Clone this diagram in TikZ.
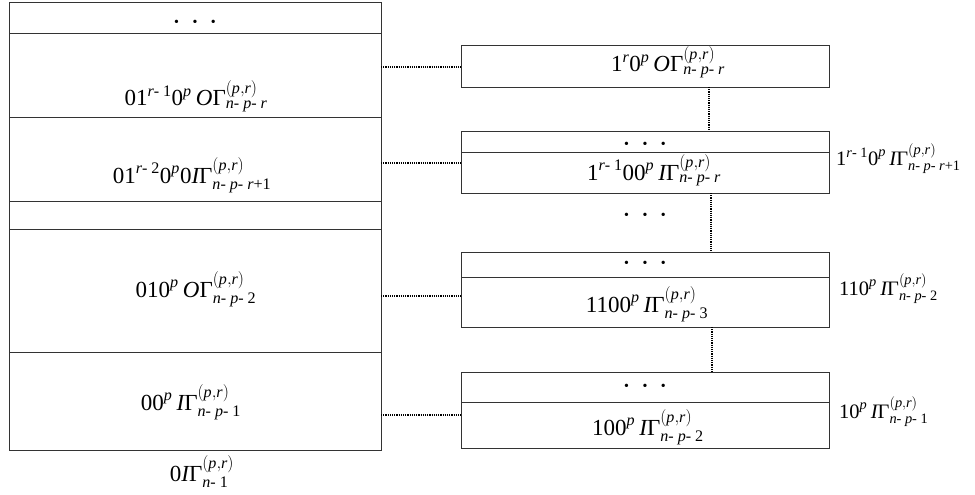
\documentclass[tikz,border=0pt]{standalone}
\usepackage{amsmath}
\usepackage{fontspec}
\setmainfont{Liberation Serif}
\usepackage{tikz}

\newcommand{\V}[1]{\textit{#1}}
\newcommand{\mi}{\text{-\ }}
\newcommand{\G}[1]{\text{Γ}^{(\V{p},\V{r})}_{#1}}
\newcommand{\tdots}{{\fontsize{14}{14}\selectfont\textbullet\hspace{13.5pt}\textbullet\hspace{13.5pt}\textbullet}}

\tikzset{
  band/.style={draw=black!80, line width=0.8pt, inner sep=0pt, outer sep=0pt},
  lab/.style={anchor=base, inner sep=0pt, font=\fontsize{23}{27}\selectfont},
  side/.style={anchor=base west, inner sep=0pt, font=\fontsize{20.5}{24}\selectfont},
  conn/.style={densely dotted, line width=1.2pt},
}

\begin{document}
\begin{tikzpicture}[x=1pt,y=-1pt]
      \useasboundingbox (0,0) rectangle (975,495);
      % left column
      \node[band, minimum width=372pt, minimum height=31pt] (L1) at (195,17.5) {};
      \node[band, minimum width=372pt, minimum height=84pt] (L2) at (195,75) {};
      \node[band, minimum width=372pt, minimum height=84pt] (L3) at (195,159) {};
      \node[band, minimum width=372pt, minimum height=28pt] (L4) at (195,215) {};
      \node[band, minimum width=372pt, minimum height=123pt] (L5) at (195,290.5) {};
      \node[band, minimum width=372pt, minimum height=98pt] (L6) at (195,401) {};
      \node (D1) at (195,23) {\tdots};
      \node[lab] (T1) at (196,106) {$\text{01}^{\V{r}\mi\text{1}}\text{0}^{\V{p}}\,\V{O}\G{\V{n}\mi\V{p}\mi\V{r}}$};
      \node[lab] (T2) at (192,183) {$\text{01}^{\V{r}\mi\text{2}}\text{0}^{\V{p}}\text{0}\V{I}\G{\V{n}\mi\V{p}\mi\V{r}\text{+1}}$};
      \node[lab] (T3) at (196,297) {$\text{010}^{\V{p}}\,\V{O}\G{\V{n}\mi\V{p}\mi\text{2}}$};
      \node[lab] (T4) at (191,410) {$\text{00}^{\V{p}}\,\V{I}\G{\V{n}\mi\V{p}\mi\text{1}}$};
      \node[lab] (T5) at (202,481) {$\text{0}\V{I}\G{\V{n}\mi\text{1}}$};
      % right column
      \node[band, minimum width=368pt, minimum height=42pt] (R1) at (645,66) {};
      \node[band, minimum width=368pt, minimum height=21pt] (R2a) at (645,141.5) {};
      \node[band, minimum width=368pt, minimum height=41pt] (R2b) at (645,172.5) {};
      \node[band, minimum width=368pt, minimum height=25pt] (R3a) at (645,264.5) {};
      \node[band, minimum width=368pt, minimum height=50pt] (R3b) at (645,302) {};
      \node[band, minimum width=368pt, minimum height=30pt] (R4a) at (645,387) {};
      \node[band, minimum width=368pt, minimum height=46pt] (R4b) at (645,425) {};
      \node (D2) at (645,145) {\tdots};
      \node (D0) at (645,216) {\tdots};
      \node (D3) at (645,264) {\tdots};
      \node (D4) at (645,387) {\tdots};
      \node[lab] (U1) at (668,72) {$\text{1}^{\V{r}}\text{0}^{\V{p}}\,\V{O}\G{\V{n}\mi\V{p}\mi\V{r}}$};
      \node[lab] (U2) at (654,180) {$\text{1}^{\V{r}\mi\text{1}}\text{00}^{\V{p}}\,\V{I}\G{\V{n}\mi\V{p}\mi\V{r}}$};
      \node[lab] (U3) at (647,312) {$\text{1100}^{\V{p}}\,\V{I}\G{\V{n}\mi\V{p}\mi\text{3}}$};
      \node[lab] (U4) at (648,435) {$\text{100}^{\V{p}}\,\V{I}\G{\V{n}\mi\V{p}\mi\text{2}}$};
      \node[side] (S2) at (836,165) {$\text{1}^{\V{r}\mi\text{1}}\text{0}^{\V{p}}\,\V{I}\G{\V{n}\mi\V{p}\mi\V{r}\text{+1}}$};
      \node[side] (S3) at (839,295) {$\text{110}^{\V{p}}\,\V{I}\G{\V{n}\mi\V{p}\mi\text{2}}$};
      \node[side] (S4) at (839,418) {$\text{10}^{\V{p}}\,\V{I}\G{\V{n}\mi\V{p}\mi\text{1}}$};
        % links
      \draw[conn] ([yshift=-1pt]R1.west -| L2.east) -- ([yshift=-1pt]R1.west);
      \draw[conn] ([yshift=9.5pt]R2b.west -| L3.east) -- ([yshift=9.5pt]R2b.west);
      \draw[conn] ([yshift=6pt]R3b.west -| L5.east) -- ([yshift=6pt]R3b.west);
      \draw[conn] ([yshift=10pt]R4b.west -| L6.east) -- ([yshift=10pt]R4b.west);
      \draw[conn] ([xshift=64pt]R1.south) -- ([xshift=64pt]R1.south |- R2a.north);
      \draw[conn] ([xshift=66pt]R2b.south) -- ([xshift=66pt]R2b.south |- R3a.north);
      \draw[conn] ([xshift=67pt]R3b.south) -- ([xshift=67pt]R3b.south |- R4a.north);
    \end{tikzpicture}
\end{document}
